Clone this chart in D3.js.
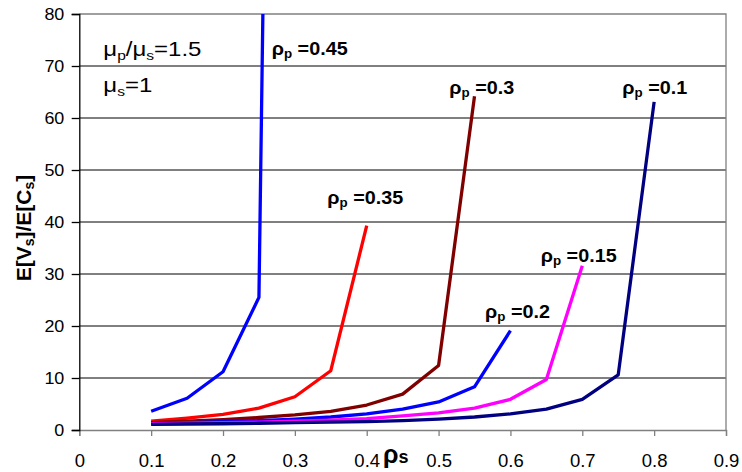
<!DOCTYPE html>
<html><head><meta charset="utf-8">
<script src="https://cdn.jsdelivr.net/npm/d3@7"></script>
<style>body{margin:0;background:#fff}svg{display:block;font-family:Arial,"Liberation Sans",sans-serif}</style>
</head><body>
<svg id="c" width="742" height="472"></svg>
<script>
const xs = [0.1,0.15,0.2,0.25,0.3,0.35,0.4,0.45,0.5,0.55,0.6,0.65,0.7,0.75,0.8];
const s045 = [3.6,6.1,11.2,25.5];
const s045extra = [[0.26,125]];
const s035 = [1.7,2.3,3.0,4.2,6.4,11.4,39.3];
const s030 = [1.4,1.7,2.0,2.4,2.9,3.6,4.8,6.9,12.4,64.2];
const s020 = [1.3,1.4,1.6,1.8,2.1,2.5,3.1,4.0,5.4,8.3,19.1];
const s015 = [1.2,1.3,1.4,1.5,1.7,1.9,2.2,2.7,3.3,4.2,5.9,9.7,31.6];
const s010 = [1.1,1.15,1.2,1.3,1.4,1.5,1.6,1.8,2.1,2.5,3.1,4.0,5.9,10.6,63.1];
const seriesNames = ["0.45","0.35","0.3","0.2","0.15","0.1"];
const seriesColors = ["#0000FF","#FF0000","#800000","#0000FF","#FF00FF","#000080"];
const xTicks = [0,0.1,0.2,0.3,0.4,0.5,0.6,0.7,0.8,0.9];
const yTicks = [0,10,20,30,40,50,60,70,80];

const FONT = "Arial,'Liberation Sans',sans-serif";
const svg = d3.select("#c");
const L=79.3,R=726,T=14,B=430;
const x = d3.scaleLinear().domain([0,0.9]).range([L,R]);
const y = d3.scaleLinear().domain([0,80]).range([B,T]);

function stretch(sel, s){
  sel.each(function(){
    const t = d3.select(this);
    const x0 = +t.attr("x") || 0;
    t.attr("x", x0/s).attr("transform", `scale(${s},1)`);
  });
}

// grid
svg.append("g").selectAll("line").data(yTicks.filter(v=>v>0&&v<80)).join("line")
  .attr("x1",L).attr("x2",R).attr("y1",d=>y(d)).attr("y2",d=>y(d))
  .attr("stroke","#000").attr("stroke-width",1);
// border top/right
svg.append("path").attr("d",`M${L},${y(80)}H${R}V${B}`).attr("fill","none").attr("stroke","#808080").attr("stroke-width",1.3);

// axes
const xa = svg.append("g").attr("transform",`translate(0,${B})`)
  .call(d3.axisBottom(x).tickValues(xTicks).tickSize(6).tickFormat(d=>d===0?"0":d3.format(".1f")(d)));
xa.select(".domain").attr("stroke","#808080").attr("stroke-width",1.3);
xa.selectAll(".tick line").attr("stroke","#808080").attr("stroke-width",1.3);
xa.selectAll("text").attr("font-size",18.5).attr("fill","#000").attr("font-family",FONT)
  .attr("y",37).attr("dy","0");

const ya = svg.append("g").attr("transform",`translate(${L},0)`)
  .call(d3.axisLeft(y).tickValues(yTicks).tickSize(7.6).tickPadding(7.4));
ya.select(".domain").attr("stroke","#000").attr("stroke-width",1.3);
ya.selectAll(".tick line").attr("stroke","#000").attr("stroke-width",1.3);
ya.selectAll("text").attr("font-size",16).attr("fill","#000").attr("font-family",FONT).attr("dy","0.36em");
stretch(ya.selectAll("text"), 1.12);

// clip
svg.append("clipPath").attr("id","pc").append("rect").attr("x",L).attr("y",T).attr("width",R-L).attr("height",B-T);

const allSeries = [s045,s035,s030,s020,s015,s010];
const line = d3.line().x(d=>x(d[0])).y(d=>y(d[1]));
const g = svg.append("g").attr("clip-path","url(#pc)");
allSeries.forEach((s,i)=>{
  let pts = s.map((v,k)=>[xs[k],v]);
  if(i===0) pts = pts.concat(s045extra);
  g.append("path").datum(pts).attr("d",line).attr("fill","none")
   .attr("stroke",seriesColors[i]).attr("stroke-width",3.3).attr("stroke-linejoin","round");
});

// labels
const labelPos = [[271.7,55.5],[327.3,204],[449.3,94],[485,318],[540.7,262],[622.3,94]];
seriesNames.forEach((n,i)=>{
  const t = svg.append("text").attr("x",labelPos[i][0]).attr("y",labelPos[i][1])
    .attr("font-size",18.5).attr("font-weight","bold").attr("fill","#000");
  t.append("tspan").text("ρ");
  t.append("tspan").attr("font-size",12.5).attr("dy",3).text("p");
  t.append("tspan").attr("dy",-3).text(" =" + n);
  stretch(t, 1.07);
});

// annotations
const a1 = svg.append("text").attr("x",103.3).attr("y",56).attr("font-size",20).attr("fill","#000");
a1.append("tspan").text("μ");
a1.append("tspan").attr("font-size",13).attr("dy",4).text("p");
a1.append("tspan").attr("dy",-4).text("/μ");
a1.append("tspan").attr("font-size",13).attr("dy",4).text("s");
a1.append("tspan").attr("dy",-4).text("=1.5");
stretch(a1, 1.2);
const a2 = svg.append("text").attr("x",103.3).attr("y",92).attr("font-size",20).attr("fill","#000");
a2.append("tspan").text("μ");
a2.append("tspan").attr("font-size",13).attr("dy",4).text("s");
a2.append("tspan").attr("dy",-4).text("=1");
stretch(a2, 1.2);

// axis titles
const yt = svg.append("text").attr("transform","translate(31,228) rotate(-90)")
  .attr("text-anchor","middle").attr("font-size",21).attr("font-weight","bold").attr("fill","#000");
yt.append("tspan").text("E[V");
yt.append("tspan").attr("font-size",14).attr("dy",3).text("s");
yt.append("tspan").attr("dy",-3).text("]/E[C");
yt.append("tspan").attr("font-size",14).attr("dy",3).text("s");
yt.append("tspan").attr("dy",-3).text("]");

const xt = svg.append("text").attr("x",383).attr("y",463).attr("font-size",25).attr("font-weight","bold").attr("fill","#000");
xt.append("tspan").text("ρ");
xt.append("tspan").attr("font-size",18).attr("dy",0).text("s");
</script>
</body></html>
